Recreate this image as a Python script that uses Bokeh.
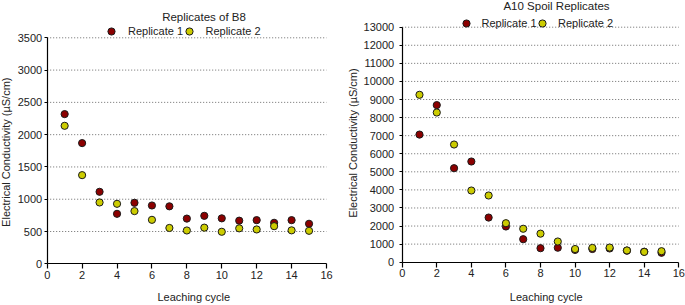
import math
from bokeh.plotting import figure
from bokeh.models import (Range1d, SingleIntervalTicker, Legend, LegendItem,
                          Label, ColumnDataSource, LinearAxis)
from bokeh.layouts import row
from bokeh.embed import file_html
from bokeh.resources import INLINE

# ---------------- data ----------------
cycles = list(range(1, 16))

b8_rep1 = [2318, 1869, 1115, 774, 945, 903, 890, 700, 743, 704, 668, 676, 635, 676, 620]
b8_rep2 = [2137, 1373, 950, 929, 816, 681, 555, 516, 560, 496, 549, 532, 583, 518, 511]

a10_rep1 = [7060, 8690, 5200, 5570, 2470, 1975, 1272, 774, 800, 680, 730, 760, 640, 580, 520]
a10_rep2 = [9260, 8280, 6510, 3965, 3690, 2157, 1850, 1580, 1145, 730, 790, 810, 650, 570, 608]

series_labels = ["Replicate 1", "Replicate 2"]
titles = ["Replicates of B8", "A10 Spoil Replicates"]
x_label = "Leaching cycle"
y_label = "Electrical Conductivity (\u00b5S/cm)"
x_max = 16
x_step = 2

# ---------------- style ----------------
FONT = "Liberation Sans"
TXT = "#222222"
RED = "#8b0000"
YEL = "#cccc00"
H = 305


def make_panel(rep1, rep2, title, ymax, ystep, width, frame_px, ytick_standoff,
               title_pos, leg_left, leg_cy, leg_standoff, xlab_pos, ylab_pos):
    # frame_px: pixel positions of x=0, x=x_max, y=0, y=ymax inside this figure
    px0, px1, py0, py1 = frame_px
    sx = (px1 - px0) / x_max
    sy = (py0 - py1) / ymax
    xr = Range1d(-px0 / sx, x_max + (width - px1) / sx)
    yr = Range1d(-(H - py0) / sy, ymax + py1 / sy)

    p = figure(width=width, height=H, x_range=xr, y_range=yr,
               x_axis_type=None, y_axis_type=None, title=None,
               output_backend="svg", toolbar_location=None,
               min_border_left=0, min_border_right=0,
               min_border_top=0, min_border_bottom=0)
    p.outline_line_color = None
    p.background_fill_color = "white"
    p.border_fill_color = "white"
    p.xgrid.visible = False
    p.ygrid.visible = False

    # horizontal dotted grid lines at the y ticks (except 0)
    grid_vals = list(range(ystep, ymax + 1, ystep))
    p.segment(x0=[0] * len(grid_vals), x1=[x_max] * len(grid_vals),
              y0=grid_vals, y1=grid_vals, line_color="#6a6a6a",
              line_dash="1 2", line_width=1)

    xaxis = LinearAxis(fixed_location=0, bounds=(0, x_max),
                       ticker=SingleIntervalTicker(interval=x_step, num_minor_ticks=0))
    yaxis = LinearAxis(fixed_location=0, bounds=(0, ymax),
                       ticker=SingleIntervalTicker(interval=ystep, num_minor_ticks=0))
    for ax in (xaxis, yaxis):
        ax.axis_line_color = "black"
        ax.axis_line_width = 1.2
        ax.major_tick_line_color = "black"
        ax.major_tick_line_width = 1.2
        ax.major_tick_in = 0
        ax.minor_tick_line_color = None
        ax.major_label_text_font = FONT
        ax.major_label_text_font_size = "11px"
        ax.major_label_text_color = TXT
    xaxis.major_tick_out = 5
    xaxis.major_label_standoff = 2
    yaxis.major_tick_out = 3
    yaxis.major_label_standoff = ytick_standoff
    p.add_layout(xaxis, "below")
    p.add_layout(yaxis, "left")

    s1 = ColumnDataSource(dict(x=cycles, y=rep1))
    s2 = ColumnDataSource(dict(x=cycles, y=rep2))
    r1 = p.scatter("x", "y", source=s1, size=7.2, fill_color=RED,
                   line_color="#1a1a1a", line_width=1)
    r2 = p.scatter("x", "y", source=s2, size=7.2, fill_color=YEL,
                   line_color="#1a1a1a", line_width=1)

    g = 18
    for rend, lab, lx in zip((r1, r2), series_labels, leg_left):
        leg = Legend(items=[LegendItem(label=lab, renderers=[rend])],
                     location=(lx + 0.5, H - (leg_cy + g / 2)), orientation="horizontal",
                     glyph_width=g, glyph_height=g, label_height=g,
                     label_standoff=leg_standoff + 1, padding=0, margin=0,
                     spacing=0, border_line_color=None,
                     background_fill_alpha=0,
                     label_text_font=FONT, label_text_font_size="11px",
                     label_text_color=TXT)
        p.add_layout(leg)

    def lab(pos, text, size, angle=0.0):
        p.add_layout(Label(x=pos[0], y=H - pos[1], x_units="screen",
                           y_units="screen", text=text, text_align="center",
                           text_baseline="middle", angle=angle,
                           text_font=FONT, text_font_size=size, text_color=TXT))

    lab(title_pos, title, "11.5px")
    lab(xlab_pos, x_label, "11px")
    lab(ylab_pos, y_label, "11px", math.pi / 2)
    return p


p1 = make_panel(b8_rep1, b8_rep2, titles[0], 3500, 500, 340,
                (46.7, 326.0, 263.3, 37.3), 2,
                title_pos=(203.5, 16), leg_left=(101.5, 179), leg_cy=31,
                leg_standoff=7, xlab_pos=(193.3, 296), ylab_pos=(5.5, 151.7))

p2 = make_panel(a10_rep1, a10_rep2, titles[1], 13000, 1000, 345,
                (61.7, 338.3, 261.7, 26.7), 5,
                title_pos=(216, 5.5), leg_left=(116, 192.5), leg_cy=23.3,
                leg_standoff=6, xlab_pos=(205.7, 296.7), ylab_pos=(12.8, 142.5))

layout = row(p1, p2)
open("out.html", "w").write(file_html(layout, INLINE))
